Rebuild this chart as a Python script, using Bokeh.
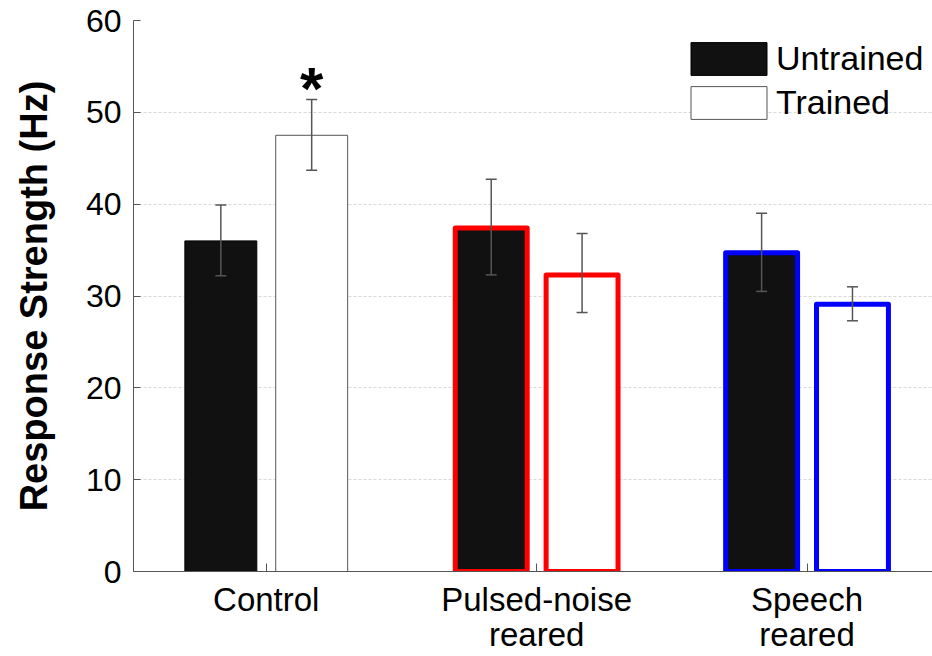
from bokeh.plotting import figure
from bokeh.models import ColumnDataSource, Legend, LegendItem, Whisker, TeeHead, FixedTicker
from bokeh.embed import file_html
from bokeh.resources import INLINE
from bokeh.core.properties import value

# ---- data ----
groups = ["Control", "Pulsed-noise\nreared", "Speech\nreared"]
group_pos = [1, 2, 3]
series_labels = ["Untrained", "Trained"]
untrained = [36.0, 37.4, 34.7]
untrained_lo = [32.2, 32.3, 30.5]
untrained_hi = [39.9, 42.7, 39.0]
trained = [47.5, 32.3, 29.1]
trained_lo = [43.7, 28.2, 27.3]
trained_hi = [51.4, 36.8, 31.0]
untrained_outline = ["#000000", "#ff0000", "#0000ff"]
trained_outline = ["#555555", "#ff0000", "#0000ff"]
outline_width = [1, 5, 5]
y_ticks = [0, 10, 20, 30, 40, 50, 60]
sig_marker = ["*", "", ""]

FONT = "Liberation Sans"
offset = 0.168
bar_w = 0.266

p = figure(width=932, height=656, x_range=(0.509, 3.464), y_range=(0, 60),
           output_backend="svg", toolbar_location=None,
           min_border_left=133, min_border_right=0, min_border_top=20, min_border_bottom=85)
p.outline_line_color = None
p.background_fill_color = "white"

src_u = ColumnDataSource(dict(x=[g - offset for g in group_pos], top=untrained,
                              lo=untrained_lo, hi=untrained_hi,
                              lc=untrained_outline, lw=outline_width,
                              fc=["#111111"] * 3))
src_t = ColumnDataSource(dict(x=[g + offset for g in group_pos], top=trained,
                              lo=trained_lo, hi=trained_hi,
                              lc=trained_outline, lw=outline_width,
                              fc=["#ffffff"] * 3, sig=sig_marker))

r_u = p.vbar(x="x", top="top", bottom=0, width=bar_w, source=src_u,
             fill_color="fc", line_color="lc", line_width="lw", line_join="round")
r_t = p.vbar(x="x", top="top", bottom=0, width=bar_w, source=src_t,
             fill_color="fc", line_color="lc", line_width="lw", line_join="round")

for src in (src_u, src_t):
    w = Whisker(source=src, base="x", lower="lo", upper="hi",
                line_color="#555555", line_width=1.5,
                upper_head=TeeHead(size=11, line_color="#555555", line_width=1.5),
                lower_head=TeeHead(size=11, line_color="#555555", line_width=1.5))
    w.level = "annotation"
    p.add_layout(w)

p.text(x="x", y="hi", text="sig", source=src_t, text_font=value(FONT),
       text_font_style="bold", text_font_size="60px", text_align="center",
       text_baseline="alphabetic", y_offset=-11, text_color="black")

# axes
p.yaxis.ticker = FixedTicker(ticks=y_ticks)
p.yaxis.axis_label = "Response Strength (Hz)"
p.yaxis.axis_label_text_font = FONT
p.yaxis.axis_label_text_font_style = "bold"
p.yaxis.axis_label_text_font_size = "38px"
p.yaxis.axis_label_standoff = 28
p.yaxis.major_label_text_font = FONT
p.yaxis.major_label_text_font_size = "32px"
p.yaxis.major_label_standoff = 12
p.yaxis.major_tick_in = 7
p.yaxis.major_tick_out = 0
p.yaxis.minor_tick_line_color = None

p.xaxis.ticker = FixedTicker(ticks=group_pos)
p.xaxis.major_label_overrides = {g: lab for g, lab in zip(group_pos, groups)}
p.xaxis.major_label_text_font = FONT
p.xaxis.major_label_text_font_size = "33px"
p.xaxis.major_label_text_line_height = 0.95
p.xaxis.major_label_standoff = 9
p.xaxis.major_tick_in = 8
p.xaxis.major_tick_out = 0
p.xaxis.minor_tick_line_color = None

for ax in (p.xaxis, p.yaxis):
    ax.axis_line_color = "#555555"
    ax.major_tick_line_color = "#555555"
    ax.major_label_text_color = "black"
    ax.axis_label_text_color = "black"

p.xgrid.grid_line_color = None
p.ygrid.ticker = FixedTicker(ticks=y_ticks)
p.ygrid.grid_line_color = "#d8d8d8"
p.ygrid.grid_line_dash = "3 2"
p.ygrid.grid_line_width = 1

legend = Legend(items=[LegendItem(label=series_labels[0], renderers=[r_u], index=0),
                       LegendItem(label=series_labels[1], renderers=[r_t], index=0)],
                location=(548, 448), glyph_width=95, glyph_height=41,
                label_text_font=FONT, label_text_font_size="34px",
                label_text_color="black",
                spacing=3, padding=0, margin=0, label_standoff=-4,
                border_line_color=None, background_fill_alpha=0)
p.add_layout(legend)

open("out.html", "w").write(file_html(p, INLINE))
